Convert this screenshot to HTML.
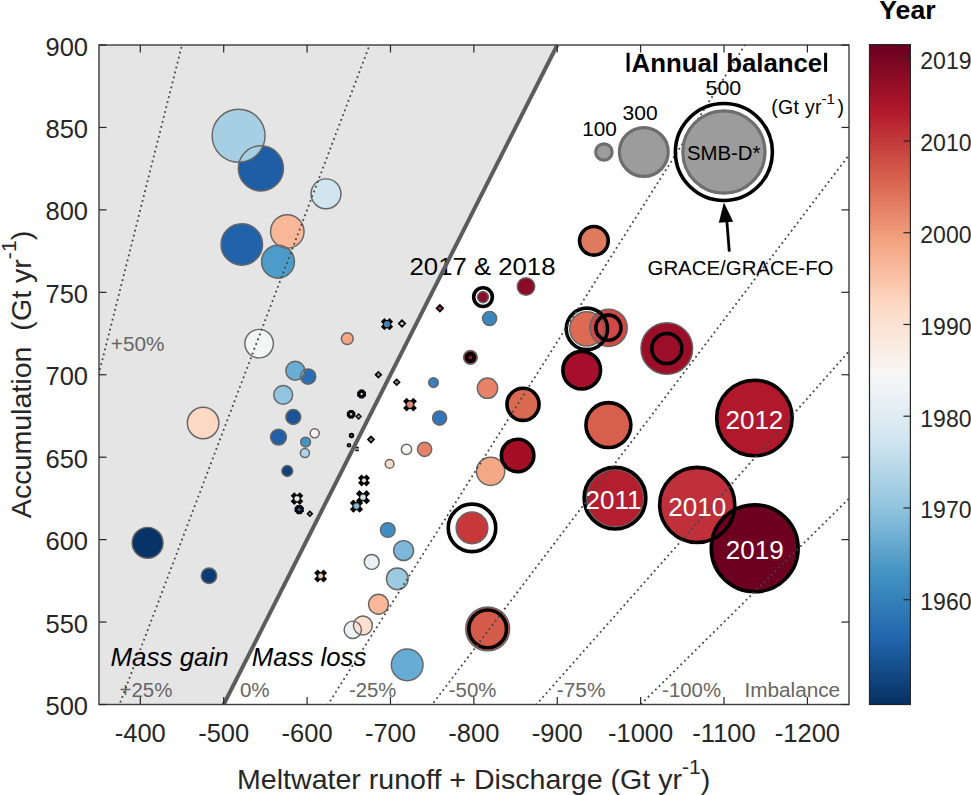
<!DOCTYPE html><html><head><meta charset="utf-8"><style>html,body{margin:0;padding:0;background:#fff;overflow:hidden;width:971px;height:795px;}svg{display:block;}text{font-family:"Liberation Sans",sans-serif;}</style></head><body>
<svg width="971" height="795" viewBox="0 0 971 795">
<defs>
<clipPath id="ax"><rect x="99.0" y="45.0" width="750.0" height="659.5"/></clipPath>
<linearGradient id="cb" x1="0" y1="1" x2="0" y2="0">
<stop offset="0.00" stop-color="#053061"/>
<stop offset="0.10" stop-color="#2166ac"/>
<stop offset="0.20" stop-color="#4393c3"/>
<stop offset="0.30" stop-color="#92c5de"/>
<stop offset="0.40" stop-color="#d1e5f0"/>
<stop offset="0.50" stop-color="#f7f7f7"/>
<stop offset="0.60" stop-color="#fddbc7"/>
<stop offset="0.70" stop-color="#f4a582"/>
<stop offset="0.80" stop-color="#d6604d"/>
<stop offset="0.90" stop-color="#b2182b"/>
<stop offset="1.00" stop-color="#67001f"/>
</linearGradient>
</defs>
<rect width="971" height="795" fill="#fff"/>
<g clip-path="url(#ax)">
<polygon points="99.0,45.0 557.25,45.0 223.69,704.5 99.0,704.5" fill="#e5e5e5"/>
</g>
<g clip-path="url(#ax)">
<circle cx="147.6" cy="542.8" r="15.45" fill="#083366"/>
<circle cx="209.0" cy="575.8" r="7.75" fill="#0c3a74"/>
<circle cx="287.3" cy="471.0" r="5.45" fill="#0f427d"/>
<circle cx="293.3" cy="417.0" r="7.45" fill="#1a5397"/>
<circle cx="260.9" cy="168.4" r="22.55" fill="#1f5ea5"/>
<circle cx="278.5" cy="437.1" r="7.95" fill="#2160a8"/>
<circle cx="241.8" cy="244.4" r="20.75" fill="#2163aa"/>
<circle cx="308.1" cy="376.5" r="7.65" fill="#2b6db3"/>
<circle cx="439.6" cy="418.1" r="7.05" fill="#3176b8"/>
<circle cx="433.5" cy="382.6" r="4.85" fill="#3b7fbd"/>
<circle cx="489.6" cy="318.4" r="7.05" fill="#3a87c0"/>
<circle cx="387.8" cy="530.0" r="7.35" fill="#3f8dc4"/>
<circle cx="305.6" cy="442.1" r="4.95" fill="#4393c3"/>
<circle cx="278.0" cy="261.7" r="16.45" fill="#4d9bc8"/>
<circle cx="407.2" cy="664.9" r="15.85" fill="#67acd4"/>
<circle cx="295.3" cy="370.7" r="9.45" fill="#6aaed6"/>
<circle cx="403.6" cy="550.6" r="9.95" fill="#7db8da"/>
<circle cx="283.2" cy="394.9" r="9.45" fill="#92c5de"/>
<circle cx="397.3" cy="578.8" r="10.85" fill="#9ccae1"/>
<circle cx="238.6" cy="135.7" r="26.45" fill="#a6cfe4"/>
<circle cx="304.9" cy="453.0" r="4.55" fill="#aed3e8"/>
<circle cx="326.0" cy="193.8" r="14.95" fill="#d1e5f0"/>
<circle cx="371.7" cy="561.9" r="7.45" fill="#e8f0f4"/>
<circle cx="352.8" cy="629.8" r="8.65" fill="#edf2f4"/>
<circle cx="259.1" cy="343.6" r="14.25" fill="#f3f5f5"/>
<circle cx="406.5" cy="449.3" r="5.15" fill="#f8f4f2"/>
<circle cx="314.7" cy="433.3" r="4.55" fill="#fbf3ef"/>
<circle cx="362.9" cy="625.5" r="9.45" fill="#fde0d2"/>
<circle cx="203.1" cy="423.0" r="15.75" fill="#fdd8c3"/>
<circle cx="389.6" cy="463.9" r="4.35" fill="#fbd9c4"/>
<circle cx="287.3" cy="231.5" r="16.75" fill="#f8b898"/>
<circle cx="378.5" cy="604.2" r="9.95" fill="#f8b797"/>
<circle cx="490.6" cy="471.3" r="14.15" fill="#f5a886"/>
<circle cx="347.3" cy="338.6" r="5.95" fill="#f4a582"/>
<circle cx="487.5" cy="388.2" r="10.15" fill="#e8836a"/>
<circle cx="424.6" cy="449.3" r="7.15" fill="#e58267"/>
<circle cx="593.9" cy="240.8" r="14.15" fill="#e07a5f"/>
<circle cx="586.8" cy="328.8" r="17.15" fill="#dd6b53"/>
<circle cx="523.0" cy="404.3" r="16.15" fill="#d9694f"/>
<circle cx="608.4" cy="425.1" r="22.15" fill="#d6604d"/>
<circle cx="487.7" cy="628.9" r="21.95" fill="#d45a4a"/>
<circle cx="608.6" cy="327.8" r="18.65" fill="#d04848"/>
<circle cx="472.0" cy="527.9" r="15.85" fill="#c8373a"/>
<circle cx="697.2" cy="504.9" r="37.15" fill="#c0303a"/>
<circle cx="615.0" cy="498.2" r="28.65" fill="#b41f2f"/>
<circle cx="754.4" cy="418.0" r="37.45" fill="#b2182b"/>
<circle cx="517.6" cy="455.5" r="16.15" fill="#a50f26"/>
<circle cx="581.7" cy="370.2" r="18.65" fill="#a50f2b"/>
<circle cx="470.4" cy="357.4" r="6.85" fill="#9a0f28"/>
<circle cx="666.8" cy="348.5" r="25.85" fill="#9a0f27"/>
<circle cx="526.0" cy="286.5" r="8.75" fill="#8b0a26"/>
<circle cx="483.0" cy="297.1" r="5.55" fill="#8b0a26"/>
<circle cx="754.7" cy="548.3" r="43.15" fill="#6d0020"/>
<circle cx="147.6" cy="542.8" r="15.45" fill="none" stroke="#666" stroke-width="1.45"/>
<circle cx="209.0" cy="575.8" r="7.75" fill="none" stroke="#666" stroke-width="1.45"/>
<circle cx="287.3" cy="471.0" r="5.45" fill="none" stroke="#666" stroke-width="1.45"/>
<circle cx="293.3" cy="417.0" r="7.45" fill="none" stroke="#666" stroke-width="1.45"/>
<circle cx="260.9" cy="168.4" r="22.55" fill="none" stroke="#666" stroke-width="1.45"/>
<circle cx="278.5" cy="437.1" r="7.95" fill="none" stroke="#666" stroke-width="1.45"/>
<circle cx="241.8" cy="244.4" r="20.75" fill="none" stroke="#666" stroke-width="1.45"/>
<circle cx="308.1" cy="376.5" r="7.65" fill="none" stroke="#666" stroke-width="1.45"/>
<circle cx="439.6" cy="418.1" r="7.05" fill="none" stroke="#666" stroke-width="1.45"/>
<circle cx="433.5" cy="382.6" r="4.85" fill="none" stroke="#666" stroke-width="1.45"/>
<circle cx="489.6" cy="318.4" r="7.05" fill="none" stroke="#666" stroke-width="1.45"/>
<circle cx="387.8" cy="530.0" r="7.35" fill="none" stroke="#666" stroke-width="1.45"/>
<circle cx="305.6" cy="442.1" r="4.95" fill="none" stroke="#666" stroke-width="1.45"/>
<circle cx="278.0" cy="261.7" r="16.45" fill="none" stroke="#666" stroke-width="1.45"/>
<circle cx="407.2" cy="664.9" r="15.85" fill="none" stroke="#666" stroke-width="1.45"/>
<circle cx="295.3" cy="370.7" r="9.45" fill="none" stroke="#666" stroke-width="1.45"/>
<circle cx="403.6" cy="550.6" r="9.95" fill="none" stroke="#666" stroke-width="1.45"/>
<circle cx="283.2" cy="394.9" r="9.45" fill="none" stroke="#666" stroke-width="1.45"/>
<circle cx="397.3" cy="578.8" r="10.85" fill="none" stroke="#666" stroke-width="1.45"/>
<circle cx="238.6" cy="135.7" r="26.45" fill="none" stroke="#666" stroke-width="1.45"/>
<circle cx="304.9" cy="453.0" r="4.55" fill="none" stroke="#666" stroke-width="1.45"/>
<circle cx="326.0" cy="193.8" r="14.95" fill="none" stroke="#666" stroke-width="1.45"/>
<circle cx="371.7" cy="561.9" r="7.45" fill="none" stroke="#666" stroke-width="1.45"/>
<circle cx="352.8" cy="629.8" r="8.65" fill="none" stroke="#666" stroke-width="1.45"/>
<circle cx="259.1" cy="343.6" r="14.25" fill="none" stroke="#666" stroke-width="1.45"/>
<circle cx="406.5" cy="449.3" r="5.15" fill="none" stroke="#666" stroke-width="1.45"/>
<circle cx="314.7" cy="433.3" r="4.55" fill="none" stroke="#666" stroke-width="1.45"/>
<circle cx="362.9" cy="625.5" r="9.45" fill="none" stroke="#666" stroke-width="1.45"/>
<circle cx="203.1" cy="423.0" r="15.75" fill="none" stroke="#666" stroke-width="1.45"/>
<circle cx="389.6" cy="463.9" r="4.35" fill="none" stroke="#666" stroke-width="1.45"/>
<circle cx="287.3" cy="231.5" r="16.75" fill="none" stroke="#666" stroke-width="1.45"/>
<circle cx="378.5" cy="604.2" r="9.95" fill="none" stroke="#666" stroke-width="1.45"/>
<circle cx="490.6" cy="471.3" r="14.15" fill="none" stroke="#666" stroke-width="1.45"/>
<circle cx="347.3" cy="338.6" r="5.95" fill="none" stroke="#666" stroke-width="1.45"/>
<circle cx="487.5" cy="388.2" r="10.15" fill="none" stroke="#666" stroke-width="1.45"/>
<circle cx="424.6" cy="449.3" r="7.15" fill="none" stroke="#666" stroke-width="1.45"/>
<circle cx="593.9" cy="240.8" r="14.15" fill="none" stroke="#666" stroke-width="1.45"/>
<circle cx="586.8" cy="328.8" r="17.15" fill="none" stroke="#666" stroke-width="1.45"/>
<circle cx="523.0" cy="404.3" r="16.15" fill="none" stroke="#666" stroke-width="1.45"/>
<circle cx="608.4" cy="425.1" r="22.15" fill="none" stroke="#666" stroke-width="1.45"/>
<circle cx="487.7" cy="628.9" r="21.95" fill="none" stroke="#666" stroke-width="1.45"/>
<circle cx="608.6" cy="327.8" r="18.65" fill="none" stroke="#666" stroke-width="1.45"/>
<circle cx="472.0" cy="527.9" r="15.85" fill="none" stroke="#666" stroke-width="1.45"/>
<circle cx="697.2" cy="504.9" r="37.15" fill="none" stroke="#666" stroke-width="1.45"/>
<circle cx="615.0" cy="498.2" r="28.65" fill="none" stroke="#666" stroke-width="1.45"/>
<circle cx="754.4" cy="418.0" r="37.45" fill="none" stroke="#666" stroke-width="1.45"/>
<circle cx="517.6" cy="455.5" r="16.15" fill="none" stroke="#666" stroke-width="1.45"/>
<circle cx="581.7" cy="370.2" r="18.65" fill="none" stroke="#666" stroke-width="1.45"/>
<circle cx="470.4" cy="357.4" r="6.85" fill="none" stroke="#666" stroke-width="1.45"/>
<circle cx="666.8" cy="348.5" r="25.85" fill="none" stroke="#666" stroke-width="1.45"/>
<circle cx="526.0" cy="286.5" r="8.75" fill="none" stroke="#666" stroke-width="1.45"/>
<circle cx="483.0" cy="297.1" r="5.55" fill="none" stroke="#666" stroke-width="1.45"/>
<circle cx="754.7" cy="548.3" r="43.15" fill="none" stroke="#666" stroke-width="1.45"/>
<circle cx="483.0" cy="297.1" r="9.35" fill="none" stroke="#000" stroke-width="3.6"/>
<circle cx="470.4" cy="357.4" r="3.75" fill="none" stroke="#000" stroke-width="3.6"/>
<circle cx="523.0" cy="404.3" r="16.05" fill="none" stroke="#000" stroke-width="3.6"/>
<circle cx="517.6" cy="455.5" r="16.25" fill="none" stroke="#000" stroke-width="3.6"/>
<circle cx="472.0" cy="527.9" r="23.75" fill="none" stroke="#000" stroke-width="3.6"/>
<circle cx="487.7" cy="628.9" r="18.85" fill="none" stroke="#000" stroke-width="3.6"/>
<circle cx="593.9" cy="240.8" r="14.35" fill="none" stroke="#000" stroke-width="3.6"/>
<circle cx="586.9" cy="328.8" r="20.65" fill="none" stroke="#000" stroke-width="3.6"/>
<circle cx="608.4" cy="327.7" r="12.55" fill="none" stroke="#000" stroke-width="3.6"/>
<circle cx="666.8" cy="348.5" r="15.05" fill="none" stroke="#000" stroke-width="3.6"/>
<circle cx="581.7" cy="370.2" r="18.85" fill="none" stroke="#000" stroke-width="3.6"/>
<circle cx="608.4" cy="425.1" r="22.45" fill="none" stroke="#000" stroke-width="3.6"/>
<circle cx="615.0" cy="498.2" r="30.85" fill="none" stroke="#000" stroke-width="3.6"/>
<circle cx="697.2" cy="504.9" r="37.55" fill="none" stroke="#000" stroke-width="3.6"/>
<circle cx="754.7" cy="548.3" r="43.45" fill="none" stroke="#000" stroke-width="3.6"/>
<circle cx="754.4" cy="418.0" r="37.75" fill="none" stroke="#000" stroke-width="3.6"/>
<path d="M382.67,319.87L391.33,328.53M382.67,328.53L391.33,319.87" stroke="#000" stroke-width="5.0" stroke-linecap="butt"/>
<circle cx="387.0" cy="324.2" r="4.10" fill="#000"/>
<circle cx="387.0" cy="324.2" r="2.90" fill="#3a85c2" stroke="#777" stroke-width="0.6"/>
<path d="M404.87,399.47L415.13,409.73M404.87,409.73L415.13,399.47" stroke="#000" stroke-width="5.0" stroke-linecap="butt"/>
<circle cx="410.0" cy="404.6" r="4.30" fill="#000"/>
<circle cx="410.0" cy="404.6" r="3.10" fill="#e8866a" stroke="#777" stroke-width="0.6"/>
<path d="M292.47,494.07L301.53,503.13M292.47,503.13L301.53,494.07" stroke="#000" stroke-width="5.0" stroke-linecap="butt"/>
<circle cx="297.0" cy="498.6" r="3.80" fill="#000"/>
<circle cx="297.0" cy="498.6" r="2.60" fill="#e4eef5" stroke="#777" stroke-width="0.6"/>
<path d="M359.77,476.17L368.23,484.63M359.77,484.63L368.23,476.17" stroke="#000" stroke-width="5.0" stroke-linecap="butt"/>
<circle cx="364.0" cy="480.4" r="3.30" fill="#000"/>
<circle cx="364.0" cy="480.4" r="2.10" fill="#fbe8dd" stroke="#777" stroke-width="0.6"/>
<path d="M357.67,491.87L368.33,502.53M357.67,502.53L368.33,491.87" stroke="#000" stroke-width="5.0" stroke-linecap="butt"/>
<circle cx="363.0" cy="497.2" r="4.00" fill="#000"/>
<circle cx="363.0" cy="497.2" r="2.80" fill="#cfe4f1" stroke="#777" stroke-width="0.6"/>
<path d="M351.62,501.22L361.38,510.98M351.62,510.98L361.38,501.22" stroke="#000" stroke-width="5.0" stroke-linecap="butt"/>
<circle cx="356.5" cy="506.1" r="4.00" fill="#000"/>
<circle cx="356.5" cy="506.1" r="2.80" fill="#7ebde0" stroke="#777" stroke-width="0.6"/>
<path d="M315.92,571.32L325.28,580.68M315.92,580.68L325.28,571.32" stroke="#000" stroke-width="5.0" stroke-linecap="butt"/>
<circle cx="320.6" cy="576.0" r="3.70" fill="#000"/>
<circle cx="320.6" cy="576.0" r="2.50" fill="#f7c4a8" stroke="#777" stroke-width="0.6"/>
<circle cx="361.6" cy="394.0" r="4.40" fill="#000"/>
<circle cx="365.20" cy="395.49" r="0.9" fill="#000"/>
<circle cx="363.09" cy="397.60" r="0.9" fill="#000"/>
<circle cx="360.11" cy="397.60" r="0.9" fill="#000"/>
<circle cx="358.00" cy="395.49" r="0.9" fill="#000"/>
<circle cx="358.00" cy="392.51" r="0.9" fill="#000"/>
<circle cx="360.11" cy="390.40" r="0.9" fill="#000"/>
<circle cx="363.09" cy="390.40" r="0.9" fill="#000"/>
<circle cx="365.20" cy="392.51" r="0.9" fill="#000"/>
<circle cx="361.6" cy="394.0" r="1.20" fill="#a9c3d3"/>
<circle cx="351.1" cy="414.3" r="4.20" fill="#000"/>
<circle cx="354.52" cy="415.72" r="0.9" fill="#000"/>
<circle cx="352.52" cy="417.72" r="0.9" fill="#000"/>
<circle cx="349.68" cy="417.72" r="0.9" fill="#000"/>
<circle cx="347.68" cy="415.72" r="0.9" fill="#000"/>
<circle cx="347.68" cy="412.88" r="0.9" fill="#000"/>
<circle cx="349.68" cy="410.88" r="0.9" fill="#000"/>
<circle cx="352.52" cy="410.88" r="0.9" fill="#000"/>
<circle cx="354.52" cy="412.88" r="0.9" fill="#000"/>
<circle cx="351.1" cy="414.3" r="1.20" fill="#c8c8c8"/>
<circle cx="299.2" cy="509.6" r="4.60" fill="#000"/>
<circle cx="302.99" cy="511.17" r="0.9" fill="#000"/>
<circle cx="300.77" cy="513.39" r="0.9" fill="#000"/>
<circle cx="297.63" cy="513.39" r="0.9" fill="#000"/>
<circle cx="295.41" cy="511.17" r="0.9" fill="#000"/>
<circle cx="295.41" cy="508.03" r="0.9" fill="#000"/>
<circle cx="297.63" cy="505.81" r="0.9" fill="#000"/>
<circle cx="300.77" cy="505.81" r="0.9" fill="#000"/>
<circle cx="302.99" cy="508.03" r="0.9" fill="#000"/>
<circle cx="299.2" cy="509.6" r="1.60" fill="#2560a8"/>
<circle cx="351.5" cy="435.5" r="2.70" fill="#000"/>
<circle cx="351.5" cy="435.5" r="1.00" fill="#666"/>
<circle cx="349.0" cy="445.3" r="2.30" fill="#000"/>
<circle cx="349.0" cy="445.3" r="0.90" fill="#666"/>
<path d="M402.0,319.1L406.4,323.5L402.0,327.9L397.6,323.5Z" fill="#000"/>
<circle cx="402.0" cy="323.5" r="1.58" fill="#d9d2cc"/>
<path d="M439.9,303.8L444.4,308.3L439.9,312.8L435.4,308.3Z" fill="#000"/>
<circle cx="439.9" cy="308.3" r="1.62" fill="#a04050"/>
<path d="M378.4,370.7L382.4,374.7L378.4,378.7L374.4,374.7Z" fill="#000"/>
<circle cx="378.4" cy="374.7" r="1.44" fill="#888"/>
<path d="M396.7,378.3L400.7,382.3L396.7,386.3L392.7,382.3Z" fill="#000"/>
<circle cx="396.7" cy="382.3" r="1.44" fill="#888"/>
<path d="M358.6,413.1L362.0,416.5L358.6,419.9L355.20000000000005,416.5Z" fill="#000"/>
<circle cx="358.6" cy="416.5" r="1.22" fill="#8aa0b0"/>
<path d="M371.0,435.3L375.2,439.5L371.0,443.7L366.8,439.5Z" fill="#000"/>
<circle cx="371.0" cy="439.5" r="1.51" fill="#888"/>
<path d="M309.9,510.20000000000005L313.4,513.7L309.9,517.2L306.4,513.7Z" fill="#000"/>
<circle cx="309.9" cy="513.7" r="1.26" fill="#777"/>
<path d="M355.5,447.5L358.5,447.5M355.5,450.5L358.5,450.5M356,446.5L356,451.5M358,446.5L358,451.5" stroke="#000" stroke-width="0.9"/>
<text x="119.5" y="696.6" font-size="20" fill="#666" textLength="52.8" lengthAdjust="spacingAndGlyphs">+25%</text>
<text x="239.9" y="696.6" font-size="20" fill="#666" textLength="29.7" lengthAdjust="spacingAndGlyphs">0%</text>
<text x="348.9" y="696.6" font-size="20" fill="#666" textLength="47.3" lengthAdjust="spacingAndGlyphs">-25%</text>
<text x="448.8" y="696.6" font-size="20" fill="#666" textLength="47.6" lengthAdjust="spacingAndGlyphs">-50%</text>
<text x="556.8" y="696.6" font-size="20" fill="#666" textLength="48.6" lengthAdjust="spacingAndGlyphs">-75%</text>
<text x="662.1" y="696.6" font-size="20" fill="#666" textLength="58.9" lengthAdjust="spacingAndGlyphs">-100%</text>
<text x="744.5" y="696.6" font-size="20" fill="#666" textLength="95.6" lengthAdjust="spacingAndGlyphs">Imbalance</text>
<text x="110.8" y="350.9" font-size="20" fill="#666" textLength="53.7" lengthAdjust="spacingAndGlyphs">+50%</text>
<text x="110.5" y="666.4" font-size="25" font-style="italic" fill="#000" textLength="118.2" lengthAdjust="spacingAndGlyphs">Mass gain</text>
<text x="251.8" y="666.4" font-size="25" font-style="italic" fill="#000" textLength="114.5" lengthAdjust="spacingAndGlyphs">Mass loss</text>
<text x="409.5" y="274.7" font-size="24.5" fill="#000" textLength="146" lengthAdjust="spacingAndGlyphs">2017 &amp; 2018</text>
<line x1="223.69" y1="704.50" x2="557.25" y2="45.00" stroke="#5c5c5c" stroke-width="4.0"/>
<line x1="-26.48" y1="869.38" x2="223.69" y2="-119.88" stroke="#454545" stroke-width="1.8" stroke-dasharray="1.8 3.3"/>
<line x1="56.91" y1="869.38" x2="432.17" y2="-119.88" stroke="#454545" stroke-width="1.8" stroke-dasharray="1.8 3.3"/>
<line x1="223.69" y1="869.38" x2="849.12" y2="-119.88" stroke="#454545" stroke-width="1.8" stroke-dasharray="1.8 3.3"/>
<line x1="307.08" y1="869.38" x2="1057.59" y2="-119.88" stroke="#454545" stroke-width="1.8" stroke-dasharray="1.8 3.3"/>
<line x1="390.47" y1="869.38" x2="1266.06" y2="-119.88" stroke="#454545" stroke-width="1.8" stroke-dasharray="1.8 3.3"/>
<line x1="473.86" y1="869.38" x2="1474.54" y2="-119.88" stroke="#454545" stroke-width="1.8" stroke-dasharray="1.8 3.3"/>
</g>
<rect x="99.0" y="45.0" width="750.0" height="659.5" fill="none" stroke="#3d3d3d" stroke-width="1.4"/>
<line x1="140.30" y1="704.5" x2="140.30" y2="697.0" stroke="#262626" stroke-width="1.2"/>
<line x1="140.30" y1="45.0" x2="140.30" y2="52.5" stroke="#262626" stroke-width="1.2"/>
<text x="140.30" y="742.4" font-size="25.5" fill="#262626" text-anchor="middle">-400</text>
<line x1="223.69" y1="704.5" x2="223.69" y2="697.0" stroke="#262626" stroke-width="1.2"/>
<line x1="223.69" y1="45.0" x2="223.69" y2="52.5" stroke="#262626" stroke-width="1.2"/>
<text x="223.69" y="742.4" font-size="25.5" fill="#262626" text-anchor="middle">-500</text>
<line x1="307.08" y1="704.5" x2="307.08" y2="697.0" stroke="#262626" stroke-width="1.2"/>
<line x1="307.08" y1="45.0" x2="307.08" y2="52.5" stroke="#262626" stroke-width="1.2"/>
<text x="307.08" y="742.4" font-size="25.5" fill="#262626" text-anchor="middle">-600</text>
<line x1="390.47" y1="704.5" x2="390.47" y2="697.0" stroke="#262626" stroke-width="1.2"/>
<line x1="390.47" y1="45.0" x2="390.47" y2="52.5" stroke="#262626" stroke-width="1.2"/>
<text x="390.47" y="742.4" font-size="25.5" fill="#262626" text-anchor="middle">-700</text>
<line x1="473.86" y1="704.5" x2="473.86" y2="697.0" stroke="#262626" stroke-width="1.2"/>
<line x1="473.86" y1="45.0" x2="473.86" y2="52.5" stroke="#262626" stroke-width="1.2"/>
<text x="473.86" y="742.4" font-size="25.5" fill="#262626" text-anchor="middle">-800</text>
<line x1="557.25" y1="704.5" x2="557.25" y2="697.0" stroke="#262626" stroke-width="1.2"/>
<line x1="557.25" y1="45.0" x2="557.25" y2="52.5" stroke="#262626" stroke-width="1.2"/>
<text x="557.25" y="742.4" font-size="25.5" fill="#262626" text-anchor="middle">-900</text>
<line x1="640.64" y1="704.5" x2="640.64" y2="697.0" stroke="#262626" stroke-width="1.2"/>
<line x1="640.64" y1="45.0" x2="640.64" y2="52.5" stroke="#262626" stroke-width="1.2"/>
<text x="640.64" y="742.4" font-size="25.5" fill="#262626" text-anchor="middle">-1000</text>
<line x1="724.03" y1="704.5" x2="724.03" y2="697.0" stroke="#262626" stroke-width="1.2"/>
<line x1="724.03" y1="45.0" x2="724.03" y2="52.5" stroke="#262626" stroke-width="1.2"/>
<text x="724.03" y="742.4" font-size="25.5" fill="#262626" text-anchor="middle">-1100</text>
<line x1="807.42" y1="704.5" x2="807.42" y2="697.0" stroke="#262626" stroke-width="1.2"/>
<line x1="807.42" y1="45.0" x2="807.42" y2="52.5" stroke="#262626" stroke-width="1.2"/>
<text x="807.42" y="742.4" font-size="25.5" fill="#262626" text-anchor="middle">-1200</text>
<line x1="99.0" y1="704.50" x2="106.5" y2="704.50" stroke="#262626" stroke-width="1.2"/>
<line x1="849.0" y1="704.50" x2="841.5" y2="704.50" stroke="#262626" stroke-width="1.2"/>
<text x="88" y="715.10" font-size="25.5" fill="#262626" text-anchor="end">500</text>
<line x1="99.0" y1="622.06" x2="106.5" y2="622.06" stroke="#262626" stroke-width="1.2"/>
<line x1="849.0" y1="622.06" x2="841.5" y2="622.06" stroke="#262626" stroke-width="1.2"/>
<text x="88" y="632.66" font-size="25.5" fill="#262626" text-anchor="end">550</text>
<line x1="99.0" y1="539.62" x2="106.5" y2="539.62" stroke="#262626" stroke-width="1.2"/>
<line x1="849.0" y1="539.62" x2="841.5" y2="539.62" stroke="#262626" stroke-width="1.2"/>
<text x="88" y="550.23" font-size="25.5" fill="#262626" text-anchor="end">600</text>
<line x1="99.0" y1="457.19" x2="106.5" y2="457.19" stroke="#262626" stroke-width="1.2"/>
<line x1="849.0" y1="457.19" x2="841.5" y2="457.19" stroke="#262626" stroke-width="1.2"/>
<text x="88" y="467.79" font-size="25.5" fill="#262626" text-anchor="end">650</text>
<line x1="99.0" y1="374.75" x2="106.5" y2="374.75" stroke="#262626" stroke-width="1.2"/>
<line x1="849.0" y1="374.75" x2="841.5" y2="374.75" stroke="#262626" stroke-width="1.2"/>
<text x="88" y="385.35" font-size="25.5" fill="#262626" text-anchor="end">700</text>
<line x1="99.0" y1="292.31" x2="106.5" y2="292.31" stroke="#262626" stroke-width="1.2"/>
<line x1="849.0" y1="292.31" x2="841.5" y2="292.31" stroke="#262626" stroke-width="1.2"/>
<text x="88" y="302.91" font-size="25.5" fill="#262626" text-anchor="end">750</text>
<line x1="99.0" y1="209.88" x2="106.5" y2="209.88" stroke="#262626" stroke-width="1.2"/>
<line x1="849.0" y1="209.88" x2="841.5" y2="209.88" stroke="#262626" stroke-width="1.2"/>
<text x="88" y="220.47" font-size="25.5" fill="#262626" text-anchor="end">800</text>
<line x1="99.0" y1="127.44" x2="106.5" y2="127.44" stroke="#262626" stroke-width="1.2"/>
<line x1="849.0" y1="127.44" x2="841.5" y2="127.44" stroke="#262626" stroke-width="1.2"/>
<text x="88" y="138.04" font-size="25.5" fill="#262626" text-anchor="end">850</text>
<line x1="99.0" y1="45.00" x2="106.5" y2="45.00" stroke="#262626" stroke-width="1.2"/>
<line x1="849.0" y1="45.00" x2="841.5" y2="45.00" stroke="#262626" stroke-width="1.2"/>
<text x="88" y="55.60" font-size="25.5" fill="#262626" text-anchor="end">900</text>
<text x="237.0" y="788.8" font-size="28" fill="#262626" xml:space="preserve" textLength="473.3" lengthAdjust="spacingAndGlyphs">Meltwater runoff + Discharge (Gt yr<tspan dy="-14.6" font-size="20.7">-1</tspan><tspan dy="14.6">)</tspan></text>
<text transform="translate(30.6,518.2) rotate(-90)" x="0" y="0" font-size="28" fill="#262626" xml:space="preserve" textLength="287.4" lengthAdjust="spacingAndGlyphs">Accumulation  (Gt yr<tspan dy="-14.6" font-size="20.7">-1</tspan><tspan dy="14.6">)</tspan></text>
<text x="613.5" y="509.2" font-size="26" fill="#fff" text-anchor="middle">2011</text>
<text x="697.2" y="515.9" font-size="26" fill="#fff" text-anchor="middle">2010</text>
<text x="754.7" y="559.3" font-size="26" fill="#fff" text-anchor="middle">2019</text>
<text x="754.4" y="429.0" font-size="26" fill="#fff" text-anchor="middle">2012</text>
<rect x="626.6" y="52.8" width="3.0" height="19" fill="#000"/><rect x="824.1" y="52.8" width="3.0" height="19" fill="#000"/>
<text x="631.6" y="71.8" font-size="25.5" font-weight="bold" fill="#000" textLength="190.6" lengthAdjust="spacingAndGlyphs">Annual balance</text>
<circle cx="603.9" cy="152.0" r="8.20" fill="#9c9c9c" stroke="#6e6e6e" stroke-width="3.2"/>
<circle cx="643.8" cy="152.0" r="24.40" fill="#9c9c9c" stroke="#6e6e6e" stroke-width="3.2"/>
<circle cx="723.9" cy="152.0" r="41.10" fill="#9c9c9c" stroke="#6e6e6e" stroke-width="3.2"/>
<circle cx="723.9" cy="152.0" r="48.50" fill="none" stroke="#000" stroke-width="3.6"/>
<text x="582.2" y="136.2" font-size="19.8" fill="#000" textLength="34.6" lengthAdjust="spacingAndGlyphs">100</text>
<text x="622.6" y="120.0" font-size="19.8" fill="#000" textLength="35" lengthAdjust="spacingAndGlyphs">300</text>
<text x="705.6" y="95.2" font-size="19.8" fill="#000" textLength="35.6" lengthAdjust="spacingAndGlyphs">500</text>
<text x="771.2" y="113.7" font-size="19.5" fill="#000" textLength="50.3" lengthAdjust="spacing">(Gt yr</text><text x="821.4" y="104.0" font-size="15" fill="#000">-1</text><text x="837.4" y="113.7" font-size="19.5" fill="#000">)</text>
<text x="686.9" y="159.7" font-size="20.5" fill="#000" textLength="73.6" lengthAdjust="spacingAndGlyphs">SMB-D*</text>
<line x1="729.3" y1="251.6" x2="726.6" y2="218" stroke="#000" stroke-width="2.8"/>
<polygon points="723.9,202.5 733.2,221.8 718.8,222.8" fill="#000"/>
<text x="647.5" y="275.4" font-size="20" fill="#000" textLength="186" lengthAdjust="spacingAndGlyphs">GRACE/GRACE-FO</text>
<rect x="869.5" y="44.6" width="40.9" height="659.9" fill="url(#cb)" stroke="#262626" stroke-width="1.2"/>
<line x1="903.4" y1="58.40" x2="910.4" y2="58.40" stroke="#262626" stroke-width="1.2"/>
<text x="920.3" y="68.70" font-size="23" fill="#262626">2019</text>
<line x1="903.4" y1="140.97" x2="910.4" y2="140.97" stroke="#262626" stroke-width="1.2"/>
<text x="920.3" y="151.27" font-size="23" fill="#262626">2010</text>
<line x1="903.4" y1="232.72" x2="910.4" y2="232.72" stroke="#262626" stroke-width="1.2"/>
<text x="920.3" y="243.02" font-size="23" fill="#262626">2000</text>
<line x1="903.4" y1="324.46" x2="910.4" y2="324.46" stroke="#262626" stroke-width="1.2"/>
<text x="920.3" y="334.76" font-size="23" fill="#262626">1990</text>
<line x1="903.4" y1="416.21" x2="910.4" y2="416.21" stroke="#262626" stroke-width="1.2"/>
<text x="920.3" y="426.51" font-size="23" fill="#262626">1980</text>
<line x1="903.4" y1="507.96" x2="910.4" y2="507.96" stroke="#262626" stroke-width="1.2"/>
<text x="920.3" y="518.26" font-size="23" fill="#262626">1970</text>
<line x1="903.4" y1="599.70" x2="910.4" y2="599.70" stroke="#262626" stroke-width="1.2"/>
<text x="920.3" y="610.00" font-size="23" fill="#262626">1960</text>
<text x="879.3" y="19.0" font-size="26.3" font-weight="bold" fill="#000" textLength="56.3" lengthAdjust="spacingAndGlyphs">Year</text>
</svg></body></html>
